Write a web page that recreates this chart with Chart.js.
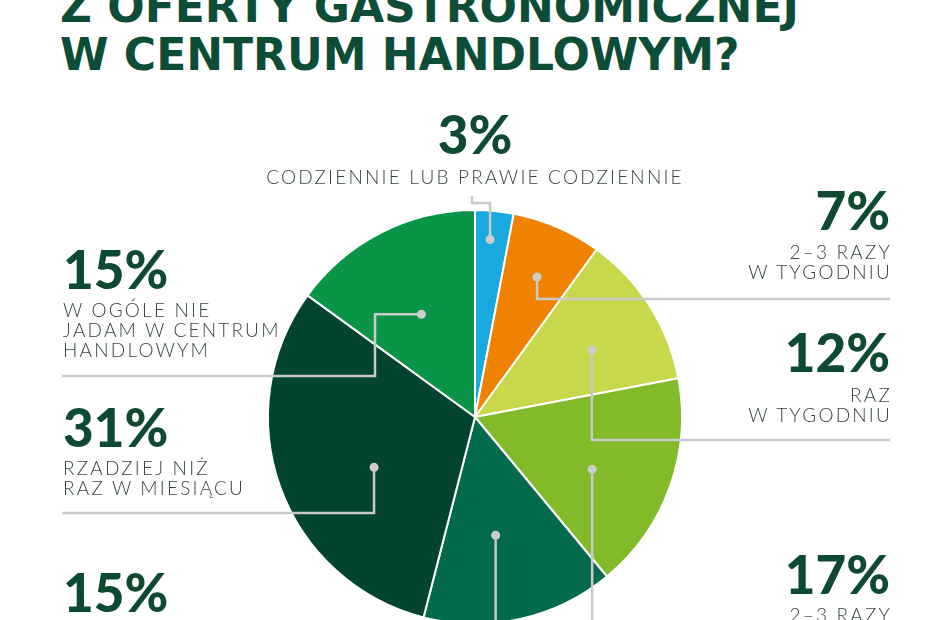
<!DOCTYPE html>
<html lang="pl">
<head>
<meta charset="utf-8">
<script src="https://cdn.jsdelivr.net/npm/chart.js@4.4.1/dist/chart.umd.min.js"></script>
<style>
  html, body { margin: 0; padding: 0; background: #fff; }
  #page { position: relative; width: 930px; height: 620px; overflow: hidden; background: #fff; }
  #pie { position: absolute; left: 0; top: 0; }
  .title { position: absolute; left: 60px; top: -17px; font-family: "DejaVu Sans"; font-weight: bold;
           font-size: 44px; line-height: 48px; color: #0d4d35; white-space: nowrap; }
  .num { position: absolute; font-family: Lato; font-weight: 900; font-size: 53px; line-height: 52px;
         color: #0e4a32; white-space: nowrap; }
  .txt { position: absolute; font-family: Lato; font-weight: 300; font-size: 19px; line-height: 20px;
         letter-spacing: 2.2px; color: #33443e; white-space: nowrap; }
</style>
</head>
<body>
<div id="page">
  <div class="title">Z OFERTY GASTRONOMICZNEJ<br>W CENTRUM HANDLOWYM?</div>
  <canvas id="pie" width="930" height="640"></canvas>
</div>
<script>
const categories = [
  "Codziennie lub prawie codziennie",
  "2–3 razy w tygodniu",
  "Raz w tygodniu",
  "2–3 razy w miesiącu",
  "Raz w miesiącu",
  "Rzadziej niż raz w miesiącu",
  "W ogóle nie jadam w centrum handlowym"
];
const values = [3, 7, 12, 17, 15, 31, 15];
const sliceColors = ["#19a9df", "#ef8200", "#c9d84b", "#82ba2a", "#036a4b", "#02442f", "#0a9447"];
const labelLines = [
  ["CODZIENNIE LUB PRAWIE CODZIENNIE"],
  ["2–3 RAZY", "W TYGODNIU"],
  ["RAZ", "W TYGODNIU"],
  ["2–3 RAZY"],
  [],
  ["RZADZIEJ NIŻ", "RAZ W MIESIĄCU"],
  ["W OGÓLE NIE", "JADAM W CENTRUM", "HANDLOWYM"]
];

// where each label block sits (align, anchor x, top of number, top of text)
const labelPos = [
  { align: "center", x: 475, numTop: 108, txtTop: 167 },
  { align: "right", x: 890, numTop: 184, txtTop: 242 },
  { align: "right", x: 890, numTop: 326, txtTop: 385 },
  { align: "right", x: 890, numTop: 548, txtTop: 605 },
  { align: "left", x: 63, numTop: 566, txtTop: 626 },
  { align: "left", x: 63, numTop: 401, txtTop: 458 },
  { align: "left", x: 63, numTop: 243, txtTop: 300 }
];
// dot inside each slice: t = fraction along the slice angle, r = fraction of radius
const dotSpots = [
  { t: 0.45, r: 0.86 }, { t: 0.52, r: 0.74 }, { t: 0.56, r: 0.65 }, { t: 0.57, r: 0.62 },
  { t: 0.55, r: 0.58 }, { t: 0.44, r: 0.545 }, { t: 0.49, r: 0.56 }
];
// leader routes from the dot: v = go vertically to y, h = go horizontally to x
const routes = [
  [["v", 203], ["h", 472], ["v", 196]],
  [["v", 299], ["h", 890]],
  [["v", 440], ["h", 890]],
  [["v", 650]],
  [["v", 650]],
  [["v", 513], ["h", 62]],
  [["h", 375], ["v", 376], ["h", 62]]
];

const page = document.getElementById("page");
values.forEach((v, i) => {
  const pos = labelPos[i];
  const place = (el, top) => {
    el.style.top = top + "px";
    el.style.textAlign = pos.align;
    if (pos.align === "right") el.style.right = (930 - pos.x - (el.className === "txt" ? 2 : 0)) + "px";
    else if (pos.align === "left") el.style.left = pos.x + "px";
    else { el.style.left = (pos.x - 300) + "px"; el.style.width = "600px"; }
    page.appendChild(el);
  };
  const num = document.createElement("div");
  num.className = "num";
  num.textContent = v + "%";
  place(num, pos.numTop);
  if (labelLines[i].length) {
    const txt = document.createElement("div");
    txt.className = "txt";
    txt.innerHTML = labelLines[i].join("<br>");
    place(txt, pos.txtTop);
  }
});

const leaderPlugin = {
  id: "leaders",
  afterDatasetsDraw(chart) {
    const ctx = chart.ctx;
    const arcs = chart.getDatasetMeta(0).data;
    ctx.save();
    ctx.strokeStyle = "#cacaca";
    ctx.fillStyle = "#cdcdcd";
    ctx.lineWidth = 2.5;
    arcs.forEach((arc, i) => {
      const p = arc.getProps(["x", "y", "startAngle", "endAngle", "outerRadius"], true);
      const a = p.startAngle + (p.endAngle - p.startAngle) * dotSpots[i].t;
      let x = p.x + Math.cos(a) * p.outerRadius * dotSpots[i].r;
      let y = p.y + Math.sin(a) * p.outerRadius * dotSpots[i].r;
      const x0 = x, y0 = y;
      ctx.beginPath();
      ctx.moveTo(x, y);
      routes[i].forEach(([dir, to]) => {
        if (dir === "v") y = to; else x = to;
        ctx.lineTo(x, y);
      });
      ctx.stroke();
      ctx.beginPath();
      ctx.arc(x0, y0, 4.5, 0, Math.PI * 2);
      ctx.fill();
    });
    ctx.restore();
  }
};

new Chart(document.getElementById("pie"), {
  type: "pie",
  data: {
    labels: categories,
    datasets: [{
      data: values,
      backgroundColor: sliceColors,
      borderColor: "#ffffff",
      borderWidth: 2
    }]
  },
  options: {
    responsive: false,
    animation: false,
    devicePixelRatio: 1,
    layout: { padding: { left: 267, right: 247, top: 209, bottom: 15 } },
    plugins: { legend: { display: false }, tooltip: { enabled: false } }
  },
  plugins: [leaderPlugin]
});
</script>
</body>
</html>
